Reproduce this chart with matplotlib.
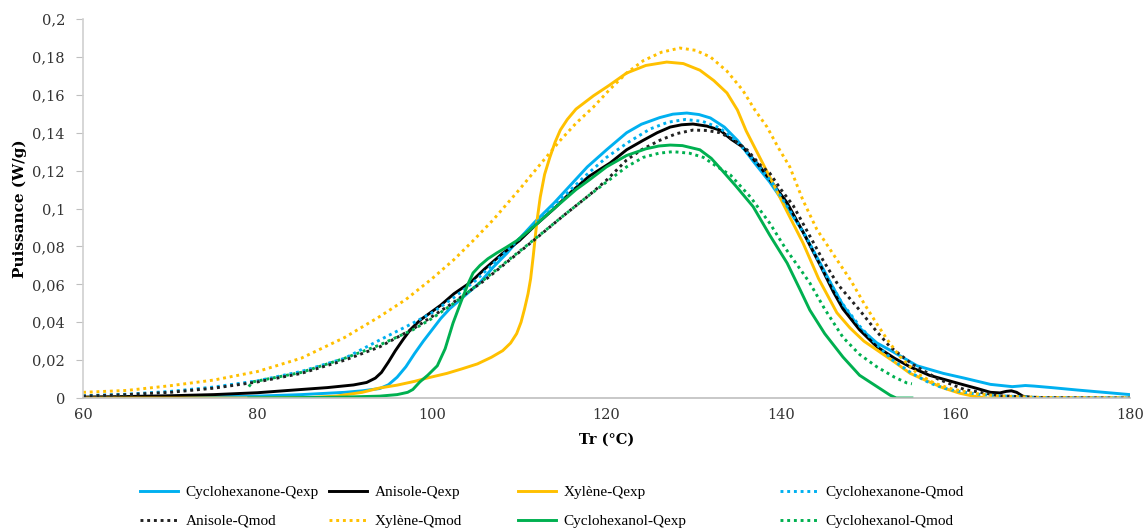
import numpy as np
import matplotlib.pyplot as plt

# Cyclohexanone - Qexp
T_cyone_exp = [60, 65, 70, 75, 80, 85, 90, 92, 94, 95, 96, 97, 98, 99, 100, 101, 102, 103, 104,
               105.5, 107, 108.6, 110, 111.8, 114, 116, 117.8, 120, 122.3, 124, 126.1, 127.6, 129.2, 130.6,
               131.9, 133.5, 135, 136.8, 138.7, 140.5, 142.5, 144.5, 146, 147.1, 149, 151, 152.8, 155.6,
               158.6, 161, 164, 166.5, 167.3, 168, 169, 171, 174, 177, 180]
P_cyone_exp = [0.0, 0.0002, 0.0004, 0.0007, 0.001, 0.0018, 0.003, 0.0038, 0.005, 0.007, 0.011, 0.0165, 0.0235,
               0.030, 0.036, 0.042, 0.047, 0.051, 0.055, 0.061, 0.069, 0.0765, 0.084, 0.093, 0.103, 0.113,
               0.122, 0.131, 0.140, 0.1445, 0.148, 0.1498, 0.1504, 0.1496, 0.1478, 0.143, 0.136, 0.125, 0.114,
               0.102, 0.088, 0.071, 0.058, 0.049, 0.037, 0.029, 0.0245, 0.017, 0.013, 0.0105, 0.0072, 0.006,
               0.0063, 0.0066, 0.0063, 0.0055, 0.0042, 0.003, 0.0018]

# Anisole - Qexp
T_anis_exp = [60, 65, 70, 75, 80, 85, 88, 91, 92.5, 93.5, 94.2, 95, 95.8, 96.7, 97.5, 98.6, 99.8, 101, 102.5,
              104.4, 106, 108, 110, 111.8, 114, 116, 118, 120.4, 122.3, 124.2, 125.8, 127.3, 128.6, 129.9,
              131.5, 133, 134.3, 135.6, 137.6, 139, 140.7, 142.7, 144.5, 146, 147.1, 149, 151, 153, 154.8,
              157, 160.5, 162.5, 164, 165.1, 165.8, 166.4, 167, 167.7, 168.5, 169]
P_anis_exp = [0.0005, 0.0008, 0.0012, 0.0018, 0.0028, 0.0045, 0.0055, 0.0069, 0.0082, 0.0105, 0.0135, 0.019,
              0.025, 0.031, 0.036, 0.041, 0.045, 0.049, 0.055, 0.061, 0.068, 0.076, 0.083, 0.091, 0.100, 0.109,
              0.117, 0.124, 0.131, 0.136, 0.140, 0.143, 0.1442, 0.1446, 0.1435, 0.1414, 0.1365, 0.1325, 0.122,
              0.1135, 0.103, 0.086, 0.070, 0.056, 0.047, 0.036, 0.027, 0.021, 0.0164, 0.012, 0.0075, 0.005,
              0.003, 0.0027, 0.0035, 0.0038, 0.003, 0.001, 0.0003, 0.0]

# Xylene - Qexp
T_xyl_exp = [60, 70, 80, 86, 89, 92, 94, 96, 98, 99.4, 101.7, 103.5, 105.2, 106.8, 108.1, 109, 109.7, 110.2,
             110.6, 111, 111.3, 111.6, 112, 112.4, 112.9, 113.5, 114.1, 114.7, 115.5, 116.5, 117.5, 118.5,
             120.3, 122.3, 124.5, 126.9, 128.8, 130.7, 132.3, 133.8, 135, 136, 137, 138, 139, 140.4, 142.5,
             144.3, 146.4, 147.9, 149.5, 151, 153, 154.8, 156.5, 158.6, 160.5, 162, 163.5, 170, 180]
P_xyl_exp = [0.0, 0.0, 0.0, 0.0003, 0.001, 0.003, 0.0053, 0.0068, 0.0088, 0.0105, 0.013, 0.0155, 0.018, 0.0215,
             0.025, 0.029, 0.034, 0.040, 0.047, 0.055, 0.063, 0.075, 0.0925, 0.106, 0.118, 0.127, 0.135,
             0.1414, 0.147, 0.1525, 0.156, 0.1595, 0.165, 0.1715, 0.1755, 0.1773, 0.1765, 0.173, 0.1675,
             0.161, 0.152, 0.141, 0.132, 0.123, 0.114, 0.101, 0.082, 0.063, 0.045, 0.037, 0.030, 0.0253,
             0.019, 0.013, 0.0095, 0.0053, 0.0025, 0.001, 0.0, 0.0, 0.0]

# Cyclohexanol - Qexp
T_cyol_exp = [79, 85, 90, 94, 96, 97.2, 97.8, 98.6, 99.5, 100.6, 101.5, 102.4, 103.5, 104.2, 104.7, 105.5,
              106.4, 107.4, 108.5, 109.7, 111.8, 113.5, 115, 116.5, 118, 120, 122.3, 124.5, 126, 127.3, 128.7,
              130.7, 132, 133, 134.8, 136.8, 138.7, 140.7, 142.2, 143.3, 145, 147.1, 149, 151, 152.5, 153.2,
              155]
P_cyol_exp = [0.0, 0.0002, 0.0005, 0.001, 0.0018, 0.003, 0.0045, 0.0085, 0.012, 0.017, 0.026, 0.0395, 0.053,
              0.061, 0.066, 0.070, 0.0735, 0.0765, 0.0795, 0.083, 0.091, 0.098, 0.104, 0.110, 0.115, 0.122,
              0.128, 0.1315, 0.133, 0.1335, 0.1332, 0.131, 0.1265, 0.1214, 0.112, 0.101, 0.086, 0.0712, 0.057,
              0.0464, 0.034, 0.0216, 0.012, 0.006, 0.0015, 0.0, 0.0]

# Cyclohexanone - Qmod
T_cyone_mod = [60, 65, 70, 75, 80, 85, 90, 94, 97.8, 100, 102.5, 105, 107.5, 110, 112.5, 115, 117.5, 120, 122.5,
               125, 127, 129, 131, 133, 135, 137, 139, 141, 143, 145, 147, 149, 151, 152.8, 155, 157, 158.6,
               160, 162.5, 165, 170, 180]
P_cyone_mod = [0.0012, 0.002, 0.0035, 0.0058, 0.0091, 0.014, 0.021, 0.0306, 0.0395, 0.045, 0.053, 0.062, 0.073,
               0.084, 0.095, 0.106, 0.117, 0.127, 0.135, 0.142, 0.1455, 0.147, 0.146, 0.1425, 0.135, 0.125,
               0.1135, 0.099, 0.084, 0.066, 0.050, 0.038, 0.028, 0.020, 0.013, 0.008, 0.0053, 0.0038, 0.002,
               0.0012, 0.0002, 0.0]

# Anisole - Qmod
T_anis_mod = [60, 65, 70, 75, 80, 85, 90, 94, 98, 102, 106, 111.6, 115, 118, 120, 122.3, 124, 126.1, 128,
              129.9, 131.5, 133, 134.5, 136.1, 137.6, 138.7, 140, 141.4, 143, 144.8, 146.5, 149, 150.8,
              152.5, 155, 158, 161, 165, 170, 180]
P_anis_mod = [0.001, 0.0018, 0.003, 0.0052, 0.0085, 0.013, 0.020, 0.027, 0.037, 0.049, 0.062, 0.083, 0.096,
              0.107, 0.115, 0.1256, 0.131, 0.136, 0.1395, 0.1414, 0.1412, 0.140, 0.1365, 0.131, 0.123, 0.1187,
              0.110, 0.1015, 0.088, 0.0728, 0.060, 0.0464, 0.036, 0.027, 0.018, 0.010, 0.0045, 0.0012,
              0.0002, 0.0]

# Xylene - Qmod
T_xyl_mod = [60, 65, 70, 75, 80, 85, 90, 94, 97, 100, 102.5, 104.7, 107, 110, 112.7, 114.7, 116.5, 118.5,
             120.4, 122.3, 124.2, 126.3, 128.4, 130.2, 131.9, 133.8, 135.6, 137, 138.4, 139.7, 141, 142.5,
             144.1, 146.4, 148, 149.5, 151, 152.3, 153.6, 155.6, 157.5, 159.4, 162, 165, 170, 180]
P_xyl_mod = [0.003, 0.004, 0.0065, 0.0095, 0.014, 0.021, 0.032, 0.043, 0.052, 0.063, 0.073, 0.083, 0.094, 0.110,
             0.125, 0.136, 0.145, 0.1536, 0.163, 0.1715, 0.178, 0.1825, 0.1847, 0.1835, 0.180, 0.1725, 0.1625,
             0.152, 0.143, 0.132, 0.122, 0.1045, 0.089, 0.073, 0.062, 0.050, 0.039, 0.030, 0.022, 0.013,
             0.008, 0.005, 0.0025, 0.001, 0.0003, 0.0]

# Cyclohexanol - Qmod
T_cyol_mod = [79, 79.4, 80, 85, 90, 94, 97.8, 100, 102.5, 105, 108, 111.8, 115, 118, 120, 122.3, 124.2, 126,
              127.6, 129.5, 131.1, 132.7, 134.2, 136.5, 138.7, 140.5, 142.5, 143.3, 145, 147.1, 149, 151, 153,
              154.4, 155]
P_cyol_mod = [0.006, 0.0085, 0.009, 0.0135, 0.021, 0.028, 0.036, 0.042, 0.050, 0.059, 0.070, 0.084, 0.096,
              0.107, 0.114, 0.122, 0.127, 0.1292, 0.130, 0.1292, 0.127, 0.122, 0.1177, 0.106, 0.0923, 0.079,
              0.066, 0.0607, 0.047, 0.032, 0.023, 0.0164, 0.011, 0.008, 0.0075]

y_ticks = [0, 0.02, 0.04, 0.06, 0.08, 0.1, 0.12, 0.14, 0.16, 0.18, 0.2]
y_labels = ["0", "0,02", "0,04", "0,06", "0,08", "0,1", "0,12", "0,14", "0,16", "0,18", "0,2"]
x_ticks = [60, 80, 100, 120, 140, 160, 180]

blue = "#00B0F0"
black = "#000000"
yellow = "#FFC000"
green = "#00B050"
dot = (0, (1, 1.3))
lw = 2.1

fig = plt.figure(figsize=(11.44, 5.29), dpi=100)
ax = fig.add_axes([0.0726, 0.2476, 0.9152, 0.7164])

l1, = ax.plot(T_cyone_exp, P_cyone_exp, color=blue, lw=lw, label="Cyclohexanone-Qexp")
l2, = ax.plot(T_anis_exp, P_anis_exp, color=black, lw=lw, label="Anisole-Qexp")
l3, = ax.plot(T_xyl_exp, P_xyl_exp, color=yellow, lw=lw, label="Xylène-Qexp")
l4, = ax.plot(T_cyone_mod, P_cyone_mod, color=blue, lw=lw, ls=dot, label="Cyclohexanone-Qmod")
l5, = ax.plot(T_anis_mod, P_anis_mod, color="#222222", lw=lw, ls=dot, label="Anisole-Qmod")
l6, = ax.plot(T_xyl_mod, P_xyl_mod, color=yellow, lw=lw, ls=dot, label="Xylène-Qmod")
l7, = ax.plot(T_cyol_exp, P_cyol_exp, color=green, lw=lw, label="Cyclohexanol-Qexp")
l8, = ax.plot(T_cyol_mod, P_cyol_mod, color=green, lw=lw, ls=dot, label="Cyclohexanol-Qmod")

ax.set_xlim(60, 180)
ax.set_ylim(0, 0.2)
ax.set_xticks(x_ticks)
ax.set_xticklabels([str(v) for v in x_ticks], fontsize=10.5, family="DejaVu Serif", color="#333333")
ax.set_yticks(y_ticks)
ax.set_yticklabels(y_labels, fontsize=10.5, family="DejaVu Serif", color="#333333")
ax.tick_params(axis="y", length=5, color="#bfbfbf", pad=8)
ax.tick_params(axis="x", length=0, pad=7)

for s in ["top", "right"]:
    ax.spines[s].set_visible(False)
ax.spines["left"].set_color("#d0d0d0")
ax.spines["bottom"].set_color("#bfbfbf")
ax.spines["left"].set_linewidth(1.2)
ax.spines["bottom"].set_linewidth(1.2)

ax.set_xlabel("Tr (°C)", fontsize=10.5, fontweight="bold", family="DejaVu Serif", labelpad=8)
ax.set_ylabel("Puissance (W/g)", fontsize=11, fontweight="bold", family="DejaVu Serif", labelpad=4)

# legend: four columns placed like the original
columns = [[l1, l5], [l2, l6], [l3, l7], [l4, l8]]
col_x = [0.1224, 0.2876, 0.4528, 0.6818]
for hs, x in zip(columns, col_x):
    fig.legend(hs, [h.get_label() for h in hs], loc="center left", bbox_to_anchor=(x, 0.0425),
               frameon=False, handlelength=2.5, handletextpad=0.5, labelspacing=1.0,
               borderpad=0, borderaxespad=0, prop={"family": "Liberation Serif", "size": 11})

fig.savefig("out.png", dpi=100)
